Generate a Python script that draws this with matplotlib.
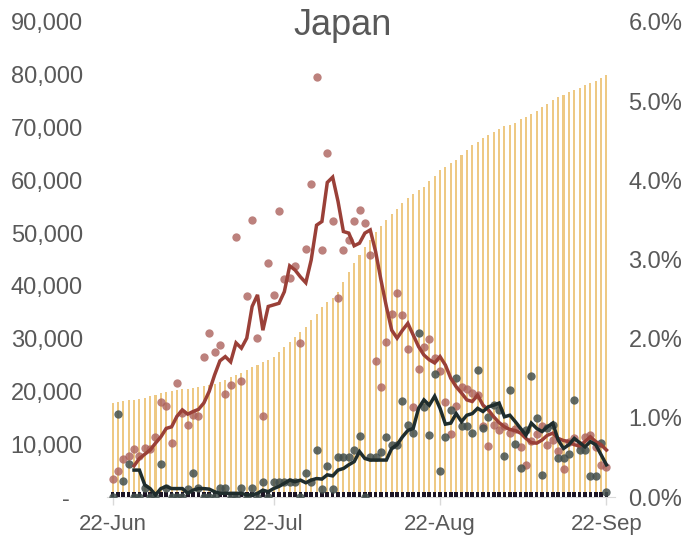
import numpy as np
import pandas as pd
import matplotlib
matplotlib.use("Agg")
import matplotlib.pyplot as plt
import matplotlib.dates as mdates
from matplotlib.ticker import FuncFormatter, FixedLocator

plt.rcParams['font.family'] = ['Liberation Sans', 'DejaVu Sans']

start_date = "2022-06-22"
n_days = 93
title = "Japan"

# daily values (left axis)
red_daily = [3400, 4900, 7200, 7800, 9100, 7700, 9300, 9100, 11400, 18000,
             17200, 10200, 21600, 15900, 13600, 15500, 15300, 26500, 31000, 27500,
             28800, 19600, 21200, 49300, 22000, 38100, 52500, 30100, 15400, 44300,
             38300, 54200, 41300, 41500, 43800, 29200, 47000, 59300, 79500, 46800,
             65200, 52300, 37700, 46800, 48700, 52300, 54400, 51900, 45800, 25800,
             20800, 29400, 34700, 38600, 34400, 28000, 17100, 24300, 28500, 30000,
             26400, 23900, 18000, 11900, 17300, 20900, 20400, 19700, 19300, 13500,
             9700, 13600, 12700, 13500, 12100, 12800, 9500, 6100, 10700, 11900,
             13500, 9800, 10800, 8800, 5400, 10500, 11100, 9900, 11300, 11700,
             9500, 6100, 5700]

red_avg = [np.nan, np.nan, np.nan, np.nan, 5900, 7300, 8100, 8900, 10200, 11400,
           13000, 13300, 15300, 16500, 15700, 16200, 16600, 17800, 20000, 23100,
           25800, 26600, 25600, 29200, 28200, 30100, 36100, 38300, 31600, 36100,
           36400, 36700, 38900, 43800, 43000, 41700, 40600, 44900, 51500, 52200,
           59600, 60600, 56000, 50300, 50000, 47600, 48100, 50000, 50600, 46500,
           41100, 36100, 31600, 30100, 31600, 32900, 30700, 28500, 26900, 26000,
           25400, 26600, 25000, 22500, 20900, 19700, 18400, 18100, 19300, 17400,
           16500, 15200, 14100, 13300, 12800, 12600, 12100, 11100, 10300, 10200,
           10800, 11700, 12100, 11100, 10700, 10500, 9900, 9700, 10500, 11400,
           10500, 9900, 8900]

dark_daily = [0, 15700, 3000, 6300, 0, 0, 1700, 0, 0, 6200,
              1700, 0, 0, 0, 1600, 4600, 1700, 0, 0, 0,
              1700, 1700, 0, 0, 1700, 0, 1700, 0, 2900, 0,
              2900, 2900, 2900, 2900, 2900, 0, 4500, 2900, 9000, 1500,
              5900, 1500, 7500, 7500, 7500, 8900, 11600, 0, 7500, 7500,
              8600, 11300, 9900, 9900, 18100, 13600, 12200, 31000, 17100, 11700,
              23400, 5000, 11400, 16500, 22500, 13500, 13500, 12100, 24100, 13000,
              15200, 17400, 16500, 7800, 20300, 10100, 5500, 12700, 22900, 15000,
              4200, 13000, 13700, 7300, 7300, 8100, 18400, 8900, 9000, 4000,
              4000, 10200, 1000]

dark_avg = [np.nan, np.nan, np.nan, np.nan, 5100, 5100, 2300, 1600, 400, 1600,
            2000, 1600, 1600, 1600, 700, 1300, 1600, 1600, 1500, 1000,
            700, 700, 700, 700, 700, 400, 400, 700, 1300, 1000,
            1600, 2000, 2600, 3200, 2900, 3200, 2700, 3200, 3500, 3400,
            4200, 4000, 5100, 5400, 6100, 6700, 8600, 7300, 7000, 7000,
            7000, 7000, 9200, 9900, 11400, 12600, 13000, 16800, 18400, 17400,
            19100, 16800, 13800, 14000, 15800, 14300, 15500, 15800, 16800, 16200,
            17100, 17400, 17800, 15200, 15500, 14300, 13000, 11700, 14000, 13000,
            12400, 13300, 14000, 10800, 9200, 9900, 11100, 10300, 9500, 10500,
            9900, 8000, 6100]

black_bars = [950, 950, 950, 950, 950, 950, 950, 950, 950, 950,
              950, 950, 950, 950, 950, 950, 950, 950, 950, 950,
              950, 950, 950, 950, 950, 950, 950, 950, 950, 950,
              950, 950, 950, 950, 950, 950, 950, 950, 950, 950,
              950, 950, 950, 950, 950, 950, 950, 950, 950, 950,
              950, 950, 950, 950, 950, 950, 950, 950, 950, 950,
              950, 950, 950, 950, 950, 950, 950, 950, 950, 950,
              950, 950, 950, 950, 950, 950, 950, 950, 950, 950,
              950, 950, 950, 950, 950, 950, 950, 950, 950, 950,
              950, 950, 950]

# right axis (percent)
yellow_pct = [1.19, 1.20, 1.21, 1.22, 1.23, 1.24, 1.25, 1.27, 1.29, 1.31,
              1.33, 1.34, 1.35, 1.36, 1.37, 1.38, 1.39, 1.40, 1.42, 1.43,
              1.45, 1.48, 1.51, 1.54, 1.57, 1.61, 1.64, 1.67, 1.70, 1.73,
              1.77, 1.83, 1.90, 1.96, 2.02, 2.09, 2.15, 2.23, 2.31, 2.40,
              2.46, 2.52, 2.59, 2.71, 2.84, 2.95, 3.06, 3.16, 3.25, 3.35,
              3.42, 3.50, 3.57, 3.64, 3.71, 3.78, 3.83, 3.88, 3.92, 3.99,
              4.06, 4.13, 4.17, 4.22, 4.26, 4.32, 4.38, 4.45, 4.49, 4.53,
              4.57, 4.61, 4.65, 4.68, 4.70, 4.73, 4.77, 4.80, 4.84, 4.88,
              4.93, 4.97, 5.01, 5.05, 5.08, 5.11, 5.14, 5.17, 5.20, 5.23,
              5.26, 5.29, 5.33]

x_tick_dates = ["2022-06-22", "2022-07-22", "2022-08-22", "2022-09-22"]
left_ticks = [0, 10000, 20000, 30000, 40000, 50000, 60000, 70000, 80000, 90000]
right_ticks = [0, 1, 2, 3, 4, 5, 6]

dates = pd.date_range(start_date, periods=n_days)

fig = plt.figure(figsize=(6.87, 5.39), dpi=100)
ax2 = fig.add_axes([0.156, 0.0779, 0.7385, 0.8813])
ax = ax2.twinx()
ax.yaxis.tick_left()
ax.yaxis.set_label_position('left')
ax2.yaxis.tick_right()
ax2.yaxis.set_label_position('right')

text_col = '#595959'

# secondary (yellow bars) behind
ax2.bar(dates, yellow_pct, width=0.38, color='#EEC984', linewidth=0, zorder=1)
ax2.set_ylim(0, 6)

# primary
ax.bar(dates, black_bars, width=0.68, color='#1C1424', linewidth=0, zorder=2)
ax.scatter(dates, red_daily, s=36, color='#AC625C', alpha=0.8, linewidths=0, zorder=3)
ax.scatter(dates, dark_daily, s=36, color='#44504E', alpha=0.85, linewidths=0, zorder=3)
ax.plot(dates, red_avg, color='#9A4038', lw=2.5, zorder=4, solid_joinstyle='miter')
ax.plot(dates, dark_avg, color='#1F2D2D', lw=2.5, zorder=5, solid_joinstyle='miter')
ax.set_ylim(0, 90000)

for a in (ax, ax2):
    a.set_xlim(dates[0] - pd.Timedelta(days=1), dates[-1] + pd.Timedelta(days=1.5))
    for s in a.spines.values():
        s.set_visible(False)

ax2.spines['bottom'].set_visible(True)
ax2.spines['bottom'].set_color('#D9D9D9')

ax.yaxis.set_major_locator(FixedLocator(left_ticks))
ax.yaxis.set_major_formatter(FuncFormatter(
    lambda v, p: '-\u00a0\u00a0' if v == 0 else f'{v:,.0f}'))
ax.tick_params(axis='y', length=0, pad=17.5, labelsize=17, labelcolor=text_col)

ax2.yaxis.set_major_locator(FixedLocator(right_ticks))
ax2.yaxis.set_major_formatter(FuncFormatter(lambda v, p: f'{v:.1f}%'))
ax2.tick_params(axis='y', length=0, pad=10, labelsize=17, labelcolor=text_col)

xt = pd.to_datetime(x_tick_dates)
ax2.set_xticks(xt)
ax2.xaxis.set_major_formatter(mdates.DateFormatter('%d-%b'))
ax2.tick_params(axis='x', length=6, width=1, color='#D9D9D9', pad=6,
                labelsize=16, labelcolor=text_col)
ax.tick_params(axis='x', bottom=False, labelbottom=False)

fig.text(0.4993, 0.9536, title, ha='center', va='center', fontsize=26, color=text_col)

fig.savefig('out.png', dpi=100)
